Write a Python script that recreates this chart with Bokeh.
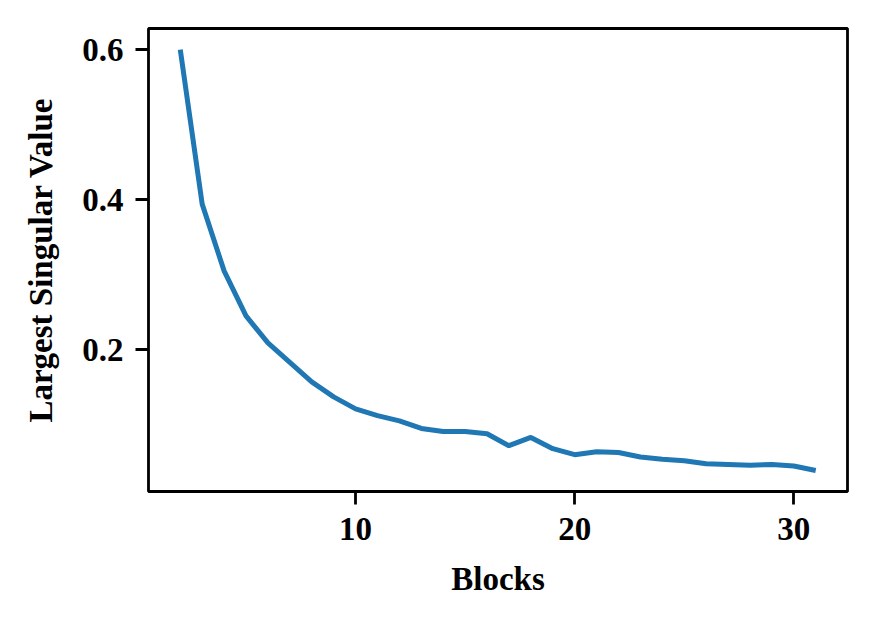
from bokeh.plotting import figure
from bokeh.models import Range1d, FixedTicker
from bokeh.embed import file_html
from bokeh.resources import INLINE

blocks = list(range(2, 32))
largest_sv = [0.600, 0.394, 0.305, 0.245, 0.209, 0.183, 0.157, 0.137, 0.121, 0.112,
              0.105, 0.095, 0.091, 0.091, 0.088, 0.072, 0.083, 0.068, 0.060, 0.064,
              0.063, 0.057, 0.054, 0.052, 0.048, 0.047, 0.046, 0.047, 0.045, 0.039]
x_ticks = [10, 20, 30]
y_ticks = [0.2, 0.4, 0.6]

xmin, xmax = min(blocks), max(blocks)
ymin, ymax = min(largest_sv), max(largest_sv)
xpad = (xmax - xmin) * 0.05
ypad = (ymax - ymin) * 0.05

p = figure(width=859, height=611, output_backend="svg", toolbar_location=None,
           x_range=Range1d(xmin - xpad, xmax + xpad),
           y_range=Range1d(ymin - ypad, ymax + ypad),
           min_border_left=148, min_border_right=12, min_border_top=28, min_border_bottom=120)

p.line(blocks, largest_sv, line_color="#1f77b4", line_width=5)

p.grid.visible = False
p.outline_line_color = "black"
p.outline_line_width = 2.8
p.outline_line_alpha = 1.0
p.background_fill_color = "white"
p.border_fill_color = "white"

for ax in (p.xaxis[0], p.yaxis[0]):
    ax.axis_line_color = None
    ax.major_tick_out = 13
    ax.major_tick_in = 0
    ax.major_tick_line_width = 2.8
    ax.major_tick_line_color = "black"
    ax.minor_tick_line_color = None
    ax.major_label_text_font = "Liberation Serif"
    ax.major_label_text_font_style = "bold"
    ax.major_label_text_font_size = "33px"
    ax.major_label_text_color = "black"
    ax.axis_label_text_font = "Liberation Serif"
    ax.axis_label_text_font_style = "bold"
    ax.axis_label_text_font_size = "33px"
    ax.axis_label_text_color = "black"

p.xaxis[0].ticker = FixedTicker(ticks=x_ticks)
p.yaxis[0].ticker = FixedTicker(ticks=y_ticks)
p.xaxis[0].axis_label = "Blocks"
p.yaxis[0].axis_label = "Largest Singular Value"
p.xaxis[0].major_label_standoff = 13
p.yaxis[0].major_label_standoff = 12
p.xaxis[0].axis_label_standoff = 18
p.yaxis[0].axis_label_standoff = 20

open("out.html", "w").write(file_html(p, INLINE))
